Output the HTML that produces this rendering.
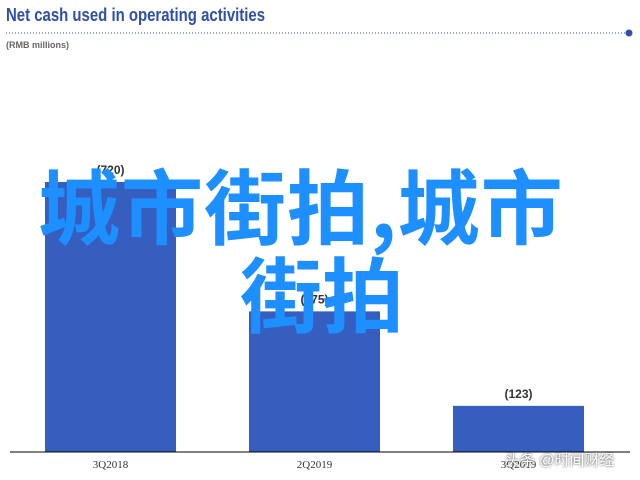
<!DOCTYPE html>
<html><head><meta charset="utf-8"><style>
body{margin:0;width:640px;height:480px;background:#fff;overflow:hidden;position:relative;font-family:"Liberation Sans",sans-serif}
.t{position:absolute;left:6px;top:5px;font-size:18px;font-weight:bold;color:#2f4fa8;transform:scaleX(0.83);transform-origin:0 0;white-space:nowrap}
.s{position:absolute;left:6px;top:40px;font-size:9px;font-weight:bold;color:#666}
.wm{position:absolute;font-family:"Noto Sans CJK SC",sans-serif;font-weight:bold;color:#1e8fff;font-size:82px;line-height:82px;white-space:nowrap}
</style></head><body>
<div class="t">Net cash used in operating activities</div>
<div class="s">(RMB millions)</div>
<svg id="c" width="640" height="480" style="position:absolute;left:0;top:0">
<line x1="6" y1="33" x2="626" y2="33" stroke="#2f4fa8" stroke-dasharray="1,2"/>
<circle cx="629" cy="33" r="3.5" fill="#2f4fa8"/>
</svg>
<div class="wm" style="left:38px;top:162px;letter-spacing:1px">城市街拍,城市</div>
<div class="wm" style="left:240px;top:250px">街拍</div>
<div style="position:absolute;left:505px;top:449px;font-size:15px;color:#fff;text-shadow:0 0 2px #333;font-family:'Liberation Sans','Noto Sans CJK SC',sans-serif">头条 @时间财经</div>
<script>
const categories=["3Q2018","2Q2019","3Q2019"];
const values=[720,375,123];
const labels=["(720)","(375)","(123)"];
const svg=document.getElementById('c');
const ns="http://www.w3.org/2000/svg";
const base=452, scale=270/720;
const y=v=>base-v*scale;
const x0=45, step=204, bw=131;
values.forEach((v,i)=>{
  const r=document.createElementNS(ns,'rect');
  r.setAttribute('x',x0+i*step);r.setAttribute('y',y(v));
  r.setAttribute('width',bw);r.setAttribute('height',base-y(v));
  r.setAttribute('fill','#355ebe');
  
  
  svg.appendChild(r);
  const t=document.createElementNS(ns,'text');
  t.setAttribute('x',x0+i*step+bw/2);t.setAttribute('y',y(v)-8);
  t.setAttribute('text-anchor','middle');t.setAttribute('font-size','12');
  t.setAttribute('font-weight','bold');t.setAttribute('fill','#333');
  t.textContent=labels[i];
  
  
  svg.appendChild(t);
  const c=document.createElementNS(ns,'text');
  c.setAttribute('x',x0+i*step+bw/2);c.setAttribute('y',468);
  c.setAttribute('text-anchor','middle');c.setAttribute('font-size','11');
  c.setAttribute('font-family','Liberation Serif');c.setAttribute('fill','#333');
  c.textContent=categories[i];
  
  
  svg.appendChild(c);
});
const ax=document.createElementNS(ns,'line');
ax.setAttribute('x1',10);ax.setAttribute('x2',630);ax.setAttribute('y1',base);ax.setAttribute('y2',base);
ax.setAttribute('stroke','#000');


svg.appendChild(ax);
</script>
</body></html>
